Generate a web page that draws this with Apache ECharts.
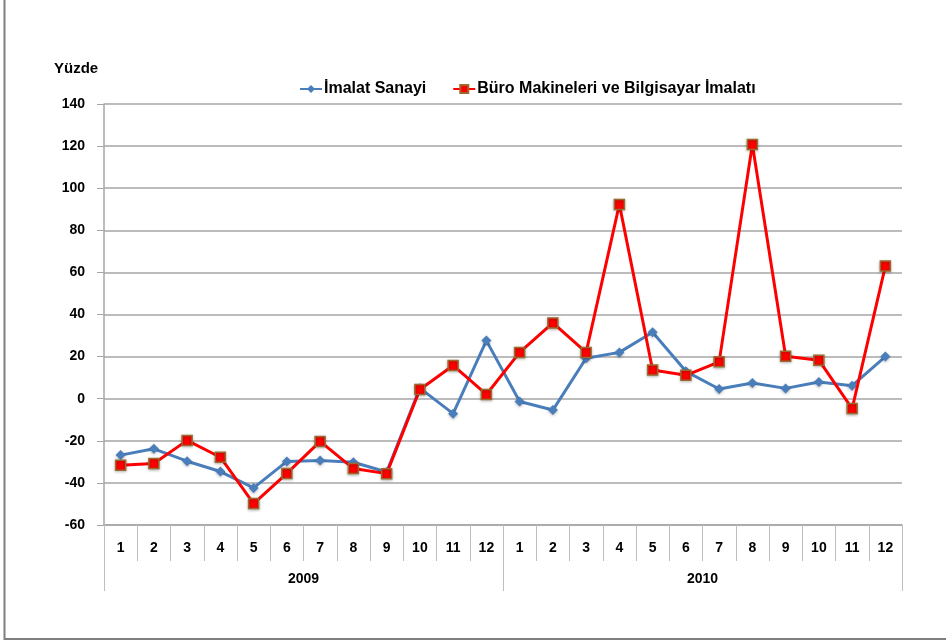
<!DOCTYPE html>
<html>
<head>
<meta charset="utf-8">
<script src="https://cdn.jsdelivr.net/npm/echarts@6/dist/echarts.min.js"></script>
<style>
  html, body { margin: 0; padding: 0; background: #fff; }
  #chart { width: 946px; height: 642px; }
</style>
</head>
<body>
<div id="chart"></div>
<script>
var months = ['1','2','3','4','5','6','7','8','9','10','11','12',
              '1','2','3','4','5','6','7','8','9','10','11','12'];
var years = ['2009', '2010'];

// İmalat Sanayi
var imalat = [-26.8, -23.8, -29.7, -34.6, -42.4, -29.8, -29.4, -30.2, -34.8, 5.0, -7.1, 27.6,
              -1.3, -5.4, 19.2, 22.0, 31.6, 13.0, 4.6, 7.5, 4.9, 7.9, 6.2, 20.0];
// Büro Makineleri ve Bilgisayar İmalatı
var buro = [-31.6, -30.8, -19.8, -27.8, -49.8, -35.5, -20.3, -33.2, -35.6, 4.4, 15.8, 2.0,
            22.0, 36.0, 22.0, 92.3, 13.6, 11.1, 17.5, 120.8, 20.2, 18.3, -4.7, 63.0];

var font = '"Liberation Sans", Arial, sans-serif';
var chart = echarts.init(document.getElementById('chart'));

chart.setOption({
  backgroundColor: '#fff',
  animation: false,
  textStyle: { fontFamily: font },
  title: {
    text: 'Yüzde',
    left: 49, top: 56,
    textStyle: { fontSize: 15, fontWeight: 'bold', color: '#000', fontFamily: font }
  },
  legend: {
    top: 76, left: 294,
    itemWidth: 22, itemHeight: 10, itemGap: 26,
    textStyle: { fontSize: 16, fontWeight: 'bold', color: '#000', fontFamily: font, padding: [0, 0, 0, -3] },
    data: ['İmalat Sanayi', 'Büro Makineleri ve Bilgisayar İmalatı']
  },
  grid: { left: 104, right: 44, top: 104, bottom: 117, containLabel: false },
  xAxis: [
    {
      type: 'category', data: months, boundaryGap: true,
      axisLine: { onZero: false, lineStyle: { color: '#a6a6a6', width: 1.5 } },
      axisTick: { show: true, interval: 0, length: 36, lineStyle: { color: '#bfbfbf' } },
      axisLabel: { interval: 0, margin: 16, fontSize: 14, fontWeight: 'bold', color: '#000' }
    },
    {
      type: 'category', data: years, position: 'bottom', boundaryGap: true,
      axisLine: { show: false, onZero: false },
      axisTick: { show: true, interval: 0, length: 66, lineStyle: { color: '#bfbfbf' } },
      axisLabel: { interval: 0, margin: 47, fontSize: 14, fontWeight: 'bold', color: '#000' }
    }
  ],
  yAxis: {
    type: 'value', min: -60, max: 140, interval: 20,
    axisLine: { show: true, lineStyle: { color: '#a6a6a6', width: 1.5 } },
    axisTick: { show: true, length: 7, lineStyle: { color: '#a6a6a6' } },
    axisLabel: { margin: 19, fontSize: 14, fontWeight: 'bold', color: '#000' },
    splitLine: { lineStyle: { color: '#a6a6a6', width: 1.5 } }
  },
  graphic: [{
    type: 'rect', silent: true,
    shape: { x: 4.5, y: -10, width: 960, height: 649 },
    style: { fill: 'none', stroke: '#7f7f7f', lineWidth: 2 }
  }],
  series: [
    {
      name: 'İmalat Sanayi', type: 'line', xAxisIndex: 0, data: imalat,
      symbol: 'diamond', symbolSize: 10,
      lineStyle: { color: '#4a7ebb', width: 3 },
      itemStyle: { color: '#4a7ebb', shadowBlur: 3, shadowColor: 'rgba(0,0,0,0.3)', shadowOffsetY: 1 },
      z: 2
    },
    {
      name: 'Büro Makineleri ve Bilgisayar İmalatı', type: 'line', xAxisIndex: 0, data: buro,
      symbol: 'rect', symbolSize: 10,
      lineStyle: { color: '#ff0000', width: 3 },
      itemStyle: { color: '#ff0000', borderColor: '#9a6a2e', borderWidth: 1.5,
                   shadowBlur: 3, shadowColor: 'rgba(0,0,0,0.3)', shadowOffsetY: 1 },
      z: 3
    }
  ]
});
</script>
</body>
</html>
